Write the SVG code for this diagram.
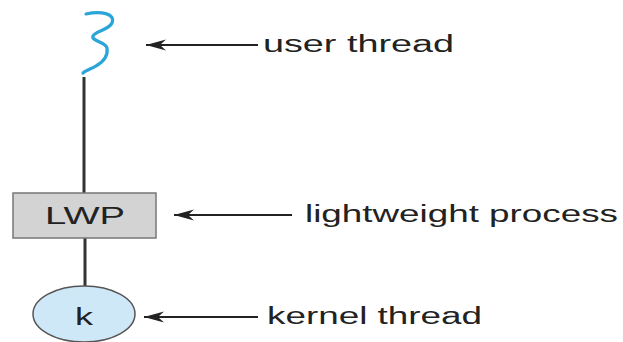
<svg xmlns="http://www.w3.org/2000/svg" width="623" height="342" viewBox="0 0 623 342">
  <style>
    .lbl { font-family: "Liberation Sans", Arial, sans-serif; font-size: 23px; fill: #222; }
    .tie { stroke: #333; stroke-width: 3; fill: none; }
    .ptr { stroke: #222; stroke-width: 2; fill: none; marker-start: url(#head); }
  </style>
  <defs>
    <!-- left-pointing arrowhead, tip sits on the line start -->
    <marker id="head" viewBox="0 0 20 12" refX="0" refY="6" markerWidth="20" markerHeight="12" orient="auto" markerUnits="userSpaceOnUse">
      <path d="M0,6 L20,0.5 L14,6 L20,11.5 Z" fill="#222"/>
    </marker>
  </defs>
  <rect width="623" height="342" fill="#fff"/>

  <g id="connectors">
    <line class="tie" x1="84" y1="77" x2="84" y2="193"/>
    <line class="tie" x1="85" y1="238" x2="85" y2="286"/>
    <line class="ptr" x1="146" y1="45" x2="258" y2="45"/>
    <line class="ptr" x1="174" y1="215" x2="292" y2="215"/>
    <line class="ptr" x1="144" y1="317" x2="258" y2="317"/>
  </g>

  <g id="user-thread">
    <path d="M86,14 C100,11 116,13 112,23 C109,30 95,31 93,36 C91,41 106,42 107,48 C108,55 105,61 96,66 C91,69 86,70 83,73" fill="none" stroke="#2aa5d8" stroke-width="3.2" stroke-linecap="round"/>
  </g>

  <g id="lwp">
    <rect x="13" y="193" width="143" height="45" fill="#d3d3d3" stroke="#777" stroke-width="1.5"/>
    <text class="lbl" x="45" y="224" textLength="80" lengthAdjust="spacingAndGlyphs">LWP</text>
  </g>

  <g id="kernel-thread">
    <ellipse cx="84" cy="314" rx="51" ry="28" fill="#cfe8f7" stroke="#555" stroke-width="1.5"/>
    <text class="lbl" x="75" y="325" textLength="18" lengthAdjust="spacingAndGlyphs">k</text>
  </g>

  <g id="labels">
    <text class="lbl" x="263" y="52" textLength="191" lengthAdjust="spacingAndGlyphs">user thread</text>
    <text class="lbl" x="305" y="222" textLength="313" lengthAdjust="spacingAndGlyphs">lightweight process</text>
    <text class="lbl" x="267" y="324" textLength="215" lengthAdjust="spacingAndGlyphs">kernel thread</text>
  </g>
</svg>
